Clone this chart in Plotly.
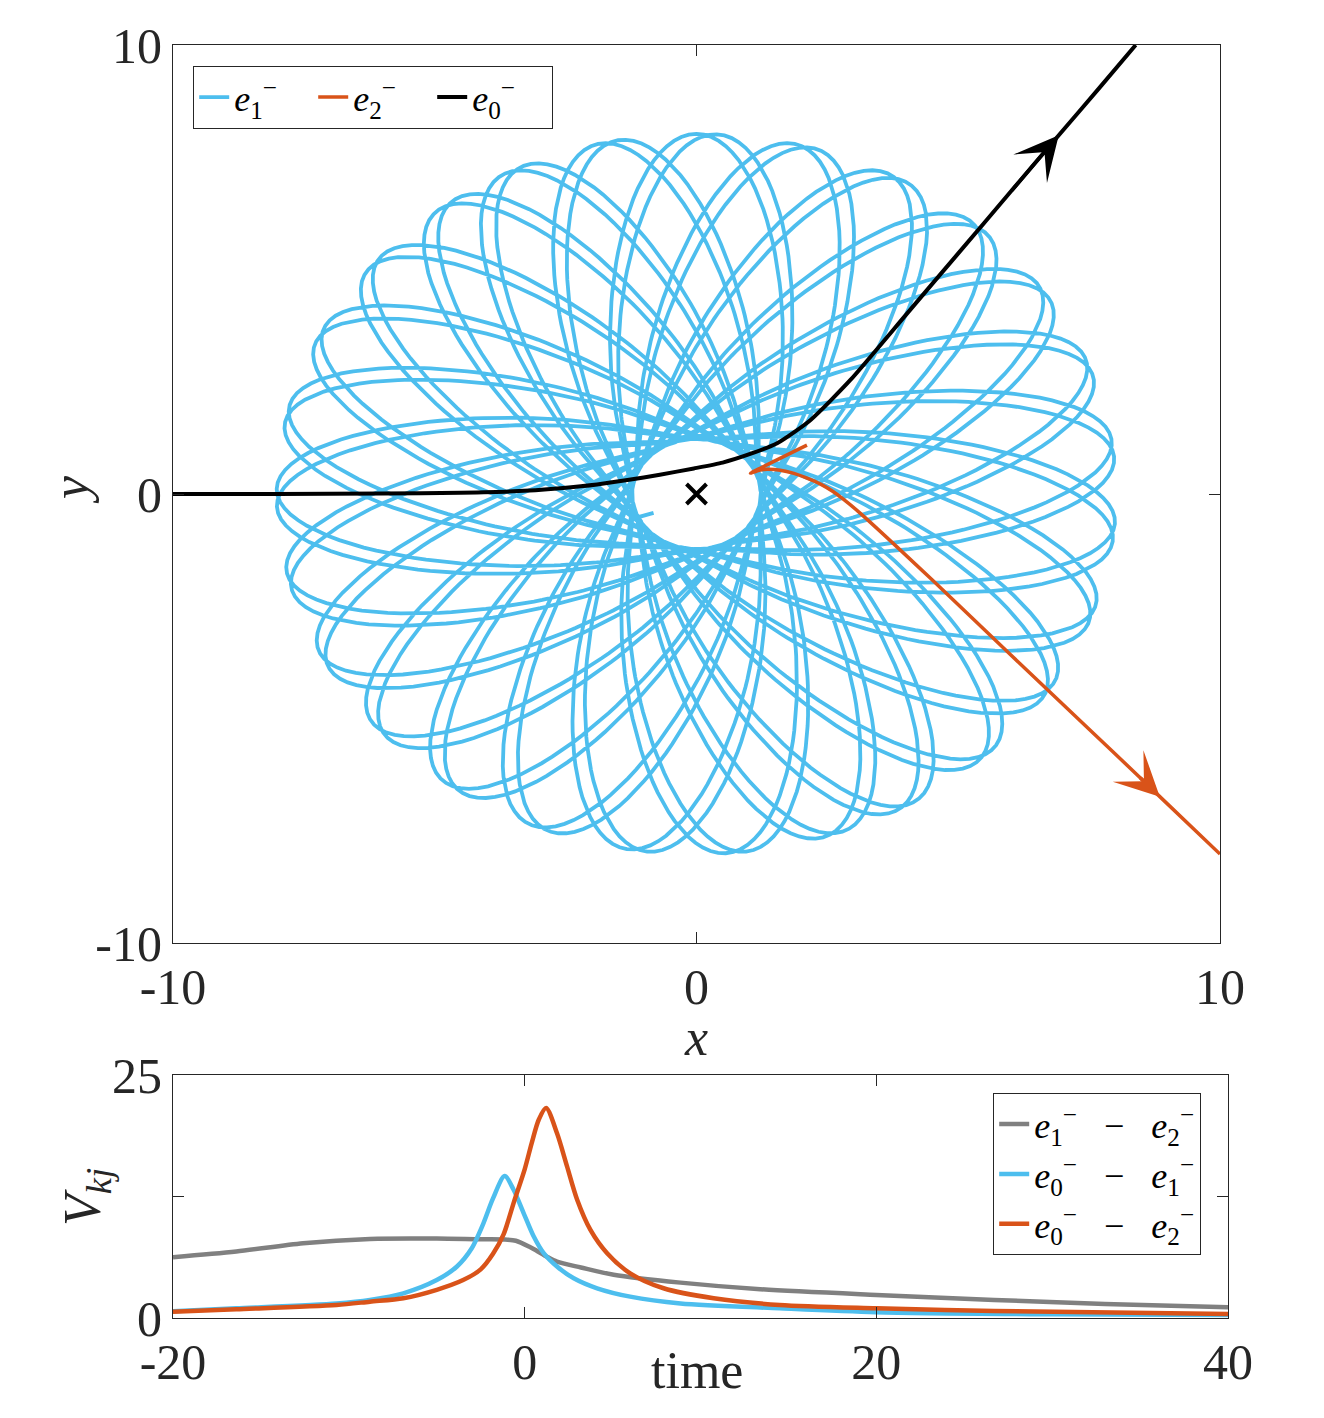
import numpy as np
import plotly.graph_objects as go

# ---------------- data ----------------
# Rosette (e1-) : precessing bound orbit, parameters
ROSETTE_R_MIN = 1.22          # radius of the empty hole around the nucleus
ROSETTE_R_MAX = 8.02          # outer reach of the petals
ROSETTE_APSIDAL_DEG = 186.77  # angle between successive apocentres
ROSETTE_START_PERI_DEG = 204.9  # direction of the first pericentre
ROSETTE_N_LOOPS = 54          # number of apocentre-to-apocentre swings
ROSETTE_SHAPE_EXP = 1.15      # petal-shape exponent
ROSETTE_STUB_X = [-0.82]      # short start segment inside the hole
ROSETTE_STUB_Y = [-0.42]

# e0- trajectory (black)
BLACK_X = [-10.0, -8.0, -6.0, -4.5, -3.5, -2.6, -1.9, -1.32, -0.7, -0.05, 0.5, 0.97, 1.54,
           2.18, 2.94, 4.0, 5.0, 6.0, 6.92, 7.7, 8.39]
BLACK_Y = [0.0, 0.0, 0.01, 0.03, 0.06, 0.13, 0.21, 0.31, 0.43, 0.57, 0.70, 0.87, 1.13,
           1.65, 2.54, 3.99, 5.36, 6.73, 7.99, 9.05, 10.0]
BLACK_ARROW_TIP = 18          # index of the arrow tip in the black path

# e2- trajectory (orange)
ORANGE_X = [2.11, 1.03, 1.2, 1.35, 1.6, 1.86, 2.1, 2.37, 2.6, 2.81, 3.13, 4.5, 6.0, 7.5, 8.45, 8.85, 10.0]
ORANGE_Y = [1.09, 0.46, 0.53, 0.55, 0.53, 0.46, 0.36, 0.22, 0.06, -0.12, -0.43, -1.91, -3.58, -5.24, -6.29, -6.74, -8.02]
ORANGE_ARROW_TIP = 15

NUCLEUS_X = [0.0]
NUCLEUS_Y = [0.0]

# bottom panel: inter-particle potentials V_kj versus time
T_GRAY = [-20, -16.4, -12.6, -8.8, -5, -2.5, -1.2, -0.5, 0.3, 0.7, 1.27, 1.84, 3.2, 5.06,
          8.86, 13.4, 20, 26.7, 33, 40]
V_GRAY = [6.26, 6.84, 7.7, 8.14, 8.18, 8.1, 8.08, 7.95, 7.3, 6.9, 6.3, 5.8, 5.2, 4.45,
          3.64, 2.96, 2.37, 1.86, 1.45, 1.1]

T_BLUE = [-20, -16.4, -10.7, -8.8, -6.9, -5, -3.85, -3.0, -2.4, -1.8, -1.14, -0.63, -0.06,
          0.51, 1.08, 1.84, 2.79, 4.12, 6.0, 8.86, 14.5, 20, 30, 40]
V_BLUE = [0.7, 1.0, 1.5, 1.86, 2.54, 3.9, 5.3, 7.2, 9.5, 12.3, 14.6, 13.2, 10.8,
          8.4, 6.67, 5.29, 4.09, 3.06, 2.2, 1.5, 1.0, 0.6, 0.38, 0.3]

T_ORANGE = [-20, -16.4, -10.7, -8.8, -6.9, -5, -3.5, -2.5, -1.8, -1.2, -0.6, 0.0, 0.4, 0.8,
            1.22, 1.84, 2.41, 2.98, 3.74, 4.69, 6.0, 7.9, 10.75, 14.5, 20, 26.7, 40]
V_ORANGE = [0.65, 0.9, 1.34, 1.68, 2.03, 2.9, 3.9, 5.0, 6.6, 8.6, 12.0, 15.3, 18.0, 20.4,
            21.6, 19.0, 15.6, 12.2, 9.07, 6.67, 4.6, 3.06, 2.03, 1.34, 1.0, 0.72, 0.41]

LEG_TOP = ["<i>e</i><sub>1</sub><sup>−</sup>", "<i>e</i><sub>2</sub><sup>−</sup>",
           "<i>e</i><sub>0</sub><sup>−</sup>"]
SEP = "&nbsp;&nbsp;&nbsp;−&nbsp;&nbsp;&nbsp;"
LEG_BOT = ["<i>e</i><sub>1</sub><sup>−</sup>" + SEP + "<i>e</i><sub>2</sub><sup>−</sup>",
           "<i>e</i><sub>0</sub><sup>−</sup>" + SEP + "<i>e</i><sub>1</sub><sup>−</sup>",
           "<i>e</i><sub>0</sub><sup>−</sup>" + SEP + "<i>e</i><sub>2</sub><sup>−</sup>"]

C_BLUE = "#4DBEEE"
C_ORANGE = "#D95319"
C_GRAY = "#808080"
C_AX = "#262626"
FONT = "Liberation Serif"

# ---------------- rosette geometry ----------------
p = ROSETTE_SHAPE_EXP
k = 360.0 / ROSETTE_APSIDAL_DEG
u_min = ROSETTE_R_MAX ** (-p)
u_max = ROSETTE_R_MIN ** (-p)
A = 0.5 * (u_min + u_max)
B = 0.5 * (u_max - u_min)
phi = np.linspace(ROSETTE_START_PERI_DEG,
                  ROSETTE_START_PERI_DEG + ROSETTE_N_LOOPS * ROSETTE_APSIDAL_DEG,
                  ROSETTE_N_LOOPS * 180 + 1)
phi_apo = ROSETTE_START_PERI_DEG - ROSETTE_APSIDAL_DEG / 2
u = A - B * np.cos(np.radians(k * (phi - phi_apo)))
r = u ** (-1.0 / p)
ros_x = np.concatenate([ROSETTE_STUB_X, r * np.cos(np.radians(phi))])
ros_y = np.concatenate([ROSETTE_STUB_Y, r * np.sin(np.radians(phi))])

fig = go.Figure()

# top panel
fig.add_trace(go.Scatter(x=ros_x, y=ros_y, mode="lines", name=LEG_TOP[0],
                         line=dict(color=C_BLUE, width=3.8), xaxis="x", yaxis="y",
                         legend="legend"))
fig.add_trace(go.Scatter(x=ORANGE_X, y=ORANGE_Y, mode="lines", name=LEG_TOP[1],
                         line=dict(color=C_ORANGE, width=3.5, shape="spline", smoothing=0.7),
                         xaxis="x", yaxis="y", legend="legend"))
fig.add_trace(go.Scatter(x=BLACK_X, y=BLACK_Y, mode="lines", name=LEG_TOP[2],
                         line=dict(color="black", width=4, shape="spline", smoothing=0.6),
                         xaxis="x", yaxis="y", legend="legend"))
fig.add_trace(go.Scatter(x=NUCLEUS_X, y=NUCLEUS_Y, mode="markers", showlegend=False,
                         marker=dict(symbol="x-thin", size=20, line=dict(width=4, color="black")),
                         xaxis="x", yaxis="y"))

# bottom panel
fig.add_trace(go.Scatter(x=T_GRAY, y=V_GRAY, mode="lines", name=LEG_BOT[0],
                         line=dict(color=C_GRAY, width=4.5, shape="spline", smoothing=0.8),
                         xaxis="x2", yaxis="y2", legend="legend2"))
fig.add_trace(go.Scatter(x=T_BLUE, y=V_BLUE, mode="lines", name=LEG_BOT[1],
                         line=dict(color=C_BLUE, width=4.5, shape="spline", smoothing=0.8),
                         xaxis="x2", yaxis="y2", legend="legend2"))
fig.add_trace(go.Scatter(x=T_ORANGE, y=V_ORANGE, mode="lines", name=LEG_BOT[2],
                         line=dict(color=C_ORANGE, width=4.5, shape="spline", smoothing=0.8),
                         xaxis="x2", yaxis="y2", legend="legend2"))

W, H = 1324, 1418


def px_x(v):
    return v / W


def px_y(v):
    return 1 - v / H


axis_common = dict(showline=True, linecolor=C_AX, linewidth=1.2, mirror="allticks",
                   ticks="inside", ticklen=11, tickwidth=1.2, tickcolor=C_AX,
                   showgrid=False, zeroline=False, automargin=False,
                   tickfont=dict(family=FONT, size=50, color=C_AX))

annotations = []
# arrowheads on trajectories (positions taken from the path data)
for xs, ys, i, col in [(BLACK_X, BLACK_Y, BLACK_ARROW_TIP, "black"),
                       (ORANGE_X, ORANGE_Y, ORANGE_ARROW_TIP, C_ORANGE)]:
    annotations.append(dict(x=xs[i], y=ys[i], ax=xs[i - 1], ay=ys[i - 1],
                            xref="x", yref="y", axref="x", ayref="y",
                            showarrow=True, arrowhead=3, arrowsize=2.1, arrowwidth=3.5,
                            arrowcolor=col, text=""))
# axis titles
title_font = dict(family=FONT, size=52, color=C_AX)
annotations += [
    dict(x=px_x(696), y=px_y(1037), xref="paper", yref="paper", text="<i>x</i>",
         xanchor="center", yanchor="middle", showarrow=False, font=title_font),
    dict(x=px_x(70), y=px_y(490), xref="paper", yref="paper", text="<i>y</i>",
         xanchor="center", yanchor="middle", textangle=-90, showarrow=False, font=title_font),
    dict(x=px_x(697), y=px_y(1370), xref="paper", yref="paper", text="time",
         xanchor="center", yanchor="middle", showarrow=False, font=title_font),
    dict(x=px_x(86), y=px_y(1197), xref="paper", yref="paper",
         text="<i>V</i><sub><i>kj</i></sub>", xanchor="center", yanchor="middle",
         textangle=-90, showarrow=False, font=title_font),
]

fig.update_layout(
    width=W, height=H, margin=dict(l=0, r=0, t=0, b=0, autoexpand=False),
    paper_bgcolor="white", plot_bgcolor="white",
    xaxis=dict(domain=[px_x(173), px_x(1220)], range=[-10, 10], anchor="y",
               tickvals=[-10, 0, 10], ticktext=["-10", "0", "10"], **axis_common),
    yaxis=dict(domain=[px_y(943), px_y(45)], range=[-10, 10], anchor="x",
               tickvals=[-10, 0, 10], ticktext=["-10", "0", "10"], **axis_common),
    xaxis2=dict(domain=[px_x(173), px_x(1228)], range=[-20, 40], anchor="y2",
                tickvals=[-20, 0, 20, 40], ticktext=["-20", "0", "20", "40"], **axis_common),
    yaxis2=dict(domain=[px_y(1318), px_y(1075)], range=[0, 25], anchor="x2",
                tickvals=[0, 12.5, 25], ticktext=["0", "", "25"], **axis_common),
    legend=dict(x=px_x(193), y=px_y(66), xanchor="left", yanchor="top",
                orientation="h", bordercolor=C_AX, borderwidth=1.2, bgcolor="white",
                entrywidth=74, entrywidthmode="pixels", tracegroupgap=0,
                font=dict(family=FONT, size=36, color="black")),
    legend2=dict(x=px_x(993), y=px_y(1093), xanchor="left", yanchor="top",
                 orientation="v", bordercolor=C_AX, borderwidth=1.2, bgcolor="white",
                 font=dict(family=FONT, size=36, color="black")),
    annotations=annotations,
    showlegend=True,
)

fig.write_html("out.html")
